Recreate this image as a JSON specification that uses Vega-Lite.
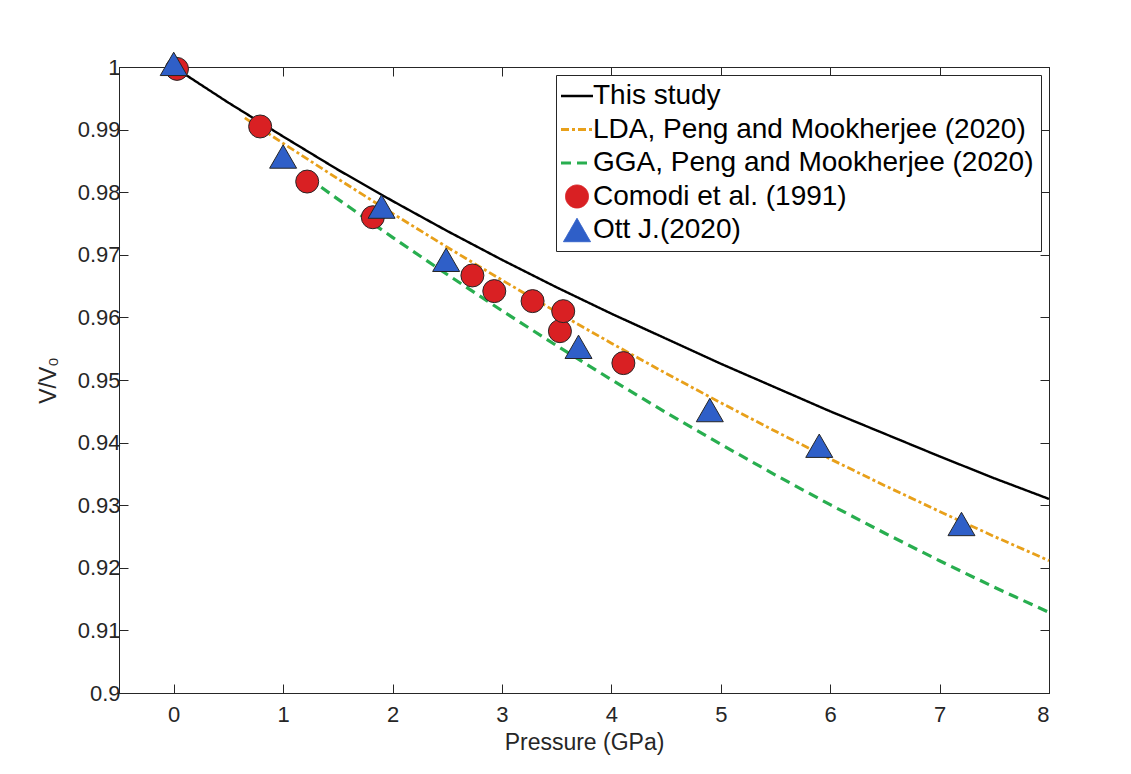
{
  "$schema": "https://vega.github.io/schema/vega-lite/v6.json",
  "width": 930,
  "height": 626,
  "autosize": "none",
  "padding": {"left": 119, "top": 67, "right": 82, "bottom": 81},
  "background": "white",
  "config": {
    "view": {"stroke": "#262626", "strokeWidth": 1},
    "font": "Liberation Sans",
    "axis": {
      "labelFont": "Liberation Sans",
      "titleFont": "Liberation Sans",
      "labelColor": "#262626",
      "titleColor": "#262626",
      "domainColor": "#262626",
      "tickColor": "#262626",
      "domainWidth": 1,
      "tickWidth": 1,
      "grid": false,
      "labelFontSize": 22,
      "titleFontSize": 23,
      "titleFontWeight": "normal",
      "tickSize": -9
    }
  },
  "datasets": {
    "curves": [
      {"series": "This study", "P": 0, "V": 1.0},
      {"series": "This study", "P": 0.5, "V": 0.9943},
      {"series": "This study", "P": 1, "V": 0.9889},
      {"series": "This study", "P": 1.5, "V": 0.9836},
      {"series": "This study", "P": 2, "V": 0.9786},
      {"series": "This study", "P": 2.5, "V": 0.9738},
      {"series": "This study", "P": 3, "V": 0.9692},
      {"series": "This study", "P": 3.5, "V": 0.9648},
      {"series": "This study", "P": 4, "V": 0.9606},
      {"series": "This study", "P": 4.5, "V": 0.9566},
      {"series": "This study", "P": 5, "V": 0.9526},
      {"series": "This study", "P": 5.5, "V": 0.9488},
      {"series": "This study", "P": 6, "V": 0.9450},
      {"series": "This study", "P": 6.5, "V": 0.9414},
      {"series": "This study", "P": 7, "V": 0.9378},
      {"series": "This study", "P": 7.5, "V": 0.9343},
      {"series": "This study", "P": 8, "V": 0.9310},
      {"series": "LDA, Peng and Mookherjee (2020)", "P": 0.65, "V": 0.99186},
      {"series": "LDA, Peng and Mookherjee (2020)", "P": 1, "V": 0.98781},
      {"series": "LDA, Peng and Mookherjee (2020)", "P": 1.5, "V": 0.98214},
      {"series": "LDA, Peng and Mookherjee (2020)", "P": 2, "V": 0.9766},
      {"series": "LDA, Peng and Mookherjee (2020)", "P": 2.5, "V": 0.97121},
      {"series": "LDA, Peng and Mookherjee (2020)", "P": 3, "V": 0.96596},
      {"series": "LDA, Peng and Mookherjee (2020)", "P": 3.5, "V": 0.96085},
      {"series": "LDA, Peng and Mookherjee (2020)", "P": 4, "V": 0.95588},
      {"series": "LDA, Peng and Mookherjee (2020)", "P": 4.5, "V": 0.95105},
      {"series": "LDA, Peng and Mookherjee (2020)", "P": 5, "V": 0.94636},
      {"series": "LDA, Peng and Mookherjee (2020)", "P": 5.5, "V": 0.9418},
      {"series": "LDA, Peng and Mookherjee (2020)", "P": 6, "V": 0.93739},
      {"series": "LDA, Peng and Mookherjee (2020)", "P": 6.5, "V": 0.93312},
      {"series": "LDA, Peng and Mookherjee (2020)", "P": 7, "V": 0.92899},
      {"series": "LDA, Peng and Mookherjee (2020)", "P": 7.5, "V": 0.925},
      {"series": "LDA, Peng and Mookherjee (2020)", "P": 8, "V": 0.92115},
      {"series": "GGA, Peng and Mookherjee (2020)", "P": 1.23, "V": 0.98227},
      {"series": "GGA, Peng and Mookherjee (2020)", "P": 1.5, "V": 0.9789},
      {"series": "GGA, Peng and Mookherjee (2020)", "P": 2, "V": 0.97279},
      {"series": "GGA, Peng and Mookherjee (2020)", "P": 2.5, "V": 0.96685},
      {"series": "GGA, Peng and Mookherjee (2020)", "P": 3, "V": 0.96108},
      {"series": "GGA, Peng and Mookherjee (2020)", "P": 3.5, "V": 0.95548},
      {"series": "GGA, Peng and Mookherjee (2020)", "P": 4, "V": 0.95006},
      {"series": "GGA, Peng and Mookherjee (2020)", "P": 4.5, "V": 0.9448},
      {"series": "GGA, Peng and Mookherjee (2020)", "P": 5, "V": 0.93973},
      {"series": "GGA, Peng and Mookherjee (2020)", "P": 5.5, "V": 0.93482},
      {"series": "GGA, Peng and Mookherjee (2020)", "P": 6, "V": 0.93008},
      {"series": "GGA, Peng and Mookherjee (2020)", "P": 6.5, "V": 0.92552},
      {"series": "GGA, Peng and Mookherjee (2020)", "P": 7, "V": 0.92112},
      {"series": "GGA, Peng and Mookherjee (2020)", "P": 7.5, "V": 0.9169},
      {"series": "GGA, Peng and Mookherjee (2020)", "P": 8, "V": 0.91288}
    ],
    "points": [
      {"series": "Comodi et al. (1991)", "P": 0.03, "V": 0.9997},
      {"series": "Comodi et al. (1991)", "P": 0.79, "V": 0.9905},
      {"series": "Comodi et al. (1991)", "P": 1.22, "V": 0.9817},
      {"series": "Comodi et al. (1991)", "P": 1.82, "V": 0.9760},
      {"series": "Comodi et al. (1991)", "P": 2.73, "V": 0.9667},
      {"series": "Comodi et al. (1991)", "P": 2.93, "V": 0.9642},
      {"series": "Comodi et al. (1991)", "P": 3.28, "V": 0.9626},
      {"series": "Comodi et al. (1991)", "P": 3.53, "V": 0.9578},
      {"series": "Comodi et al. (1991)", "P": 3.56, "V": 0.9610},
      {"series": "Comodi et al. (1991)", "P": 4.11, "V": 0.9527},
      {"series": "Ott J.(2020)", "P": 0.0, "V": 1.0005},
      {"series": "Ott J.(2020)", "P": 1.0, "V": 0.9857},
      {"series": "Ott J.(2020)", "P": 1.9, "V": 0.9777},
      {"series": "Ott J.(2020)", "P": 2.49, "V": 0.9692},
      {"series": "Ott J.(2020)", "P": 3.7, "V": 0.9553},
      {"series": "Ott J.(2020)", "P": 4.9, "V": 0.9452},
      {"series": "Ott J.(2020)", "P": 5.9, "V": 0.9395},
      {"series": "Ott J.(2020)", "P": 7.2, "V": 0.9270}
    ]
  },
  "layer": [
    {
      "data": {"name": "curves"},
      "mark": {"type": "line"},
      "encoding": {
        "x": {
          "field": "P", "type": "quantitative",
          "scale": {"domain": [-0.5, 8], "nice": false, "zero": false},
          "axis": {"orient": "bottom", "values": [0, 1, 2, 3, 4, 5, 6, 7, 8], "title": "Pressure (GPa)", "labelPadding": 20, "titlePadding": 6}
        },
        "y": {
          "field": "V", "type": "quantitative",
          "scale": {"domain": [0.9, 1.0], "nice": false, "zero": false},
          "axis": {"orient": "left", "values": [0.9, 0.91, 0.92, 0.93, 0.94, 0.95, 0.96, 0.97, 0.98, 0.99, 1.0], "format": ".2~f", "title": "V/V₀", "labelPadding": 8, "titlePadding": 17}
        },
        "color": {
          "field": "series", "type": "nominal",
          "scale": {
            "domain": ["This study", "LDA, Peng and Mookherjee (2020)", "GGA, Peng and Mookherjee (2020)", "Comodi et al. (1991)", "Ott J.(2020)"],
            "range": ["#000000", "#E8A01A", "#28AE4F", "#D92023", "#2F5FC8"]
          },
          "legend": {
            "title": null,
            "orient": "top-right",
            "offset": 8,
            "labelFont": "Liberation Sans",
            "labelFontSize": 28,
            "labelColor": "#000000",
            "labelLimit": 0,
            "labelOffset": 2,
            "strokeColor": "#262626",
            "fillColor": "white",
            "padding": 7,
            "rowPadding": 5.5,
            "symbolSize": 961,
            "symbolStrokeWidth": 2.8,
            "encode": {
              "symbols": {
                "update": {
                  "shape": {"signal": "datum.value == 'Comodi et al. (1991)' ? 'circle' : datum.value == 'Ott J.(2020)' ? 'triangle-up' : 'stroke'"},
                  "size": {"signal": "datum.value == 'Comodi et al. (1991)' ? 529 : datum.value == 'Ott J.(2020)' ? 729 : 1024"},
                  "strokeDash": {"signal": "datum.value == 'LDA, Peng and Mookherjee (2020)' ? [8,3,3,3] : datum.value == 'GGA, Peng and Mookherjee (2020)' ? [10,6] : [1,0]"},
                  "stroke": {"signal": "datum.value == 'Comodi et al. (1991)' || datum.value == 'Ott J.(2020)' ? '#262626' : datum.value == 'LDA, Peng and Mookherjee (2020)' ? '#E8A01A' : datum.value == 'GGA, Peng and Mookherjee (2020)' ? '#28AE4F' : '#000000'"},
                  "fill": {"signal": "datum.value == 'Comodi et al. (1991)' ? '#D92023' : datum.value == 'Ott J.(2020)' ? '#2F5FC8' : 'transparent'"},
                  "strokeWidth": {"signal": "datum.value == 'Comodi et al. (1991)' || datum.value == 'Ott J.(2020)' ? 1 : datum.value == 'This study' ? 2.4 : 3"},
                  "opacity": {"value": 1}
                }
              }
            }
          }
        },
        "strokeDash": {
          "field": "series", "type": "nominal",
          "scale": {
            "domain": ["This study", "LDA, Peng and Mookherjee (2020)", "GGA, Peng and Mookherjee (2020)"],
            "range": [[1, 0], [8, 3, 3, 3], [10, 6]]
          },
          "legend": null
        },
        "strokeWidth": {
          "field": "series", "type": "nominal",
          "scale": {
            "domain": ["This study", "LDA, Peng and Mookherjee (2020)", "GGA, Peng and Mookherjee (2020)"],
            "range": [2.4, 3.2, 3.2]
          },
          "legend": null
        }
      }
    },
    {
      "data": {"name": "points"},
      "mark": {"type": "point", "filled": true, "stroke": "#262626", "strokeWidth": 1, "opacity": 1},
      "encoding": {
        "x": {"field": "P", "type": "quantitative", "axis": null},
        "y": {"field": "V", "type": "quantitative", "axis": null},
        "color": {"field": "series", "type": "nominal"},
        "shape": {
          "field": "series", "type": "nominal",
          "scale": {"domain": ["Comodi et al. (1991)", "Ott J.(2020)"], "range": ["circle", "triangle-up"]},
          "legend": null
        },
        "size": {
          "field": "series", "type": "nominal",
          "scale": {"domain": ["Comodi et al. (1991)", "Ott J.(2020)"], "range": [529, 729]},
          "legend": null
        }
      }
    },
    {
      "data": {"name": "points"},
      "mark": {"type": "point", "opacity": 0},
      "encoding": {
        "x": {"field": "P", "type": "quantitative", "axis": {"orient": "top", "values": [0, 1, 2, 3, 4, 5, 6, 7, 8], "labels": false, "title": null}},
        "y": {"field": "V", "type": "quantitative", "axis": {"orient": "right", "values": [0.9, 0.91, 0.92, 0.93, 0.94, 0.95, 0.96, 0.97, 0.98, 0.99, 1.0], "labels": false, "title": null}}
      }
    }
  ]
}
